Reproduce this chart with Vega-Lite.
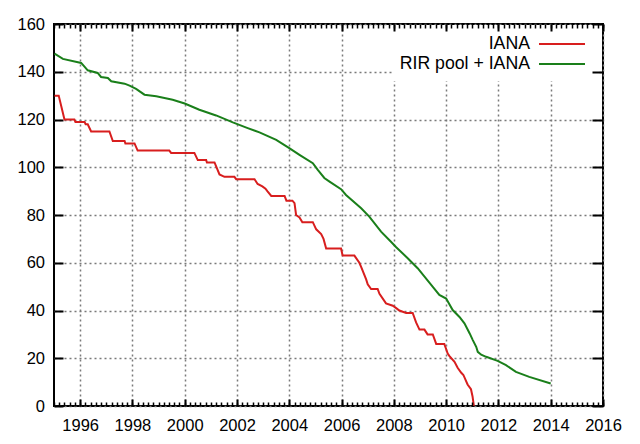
{
  "$schema": "https://vega.github.io/schema/vega-lite/v6.json",
  "width": 549,
  "height": 382,
  "autosize": {"type": "none"},
  "padding": {"left": 54, "top": 24, "right": 37, "bottom": 38},
  "background": "white",
  "config": {
    "font": "Liberation Sans",
    "view": {"stroke": "black", "strokeWidth": 2},
    "axis": {
      "domain": false,
      "title": null,
      "tickColor": "black",
      "labelColor": "black",
      "labelFont": "Liberation Sans",
      "labelFontSize": 16.5,
      "gridColor": "#7a7a7a",
      "gridDash": [2, 3],
      "gridWidth": 1.5
    }
  },
  "data": {
    "values": [
      {"series": "IANA", "year": 1995.02, "value": 130},
      {"series": "IANA", "year": 1995.18, "value": 130},
      {"series": "IANA", "year": 1995.29, "value": 125},
      {"series": "IANA", "year": 1995.40, "value": 120},
      {"series": "IANA", "year": 1995.78, "value": 120},
      {"series": "IANA", "year": 1995.82, "value": 119},
      {"series": "IANA", "year": 1996.17, "value": 119},
      {"series": "IANA", "year": 1996.21, "value": 118},
      {"series": "IANA", "year": 1996.29, "value": 118},
      {"series": "IANA", "year": 1996.42, "value": 115},
      {"series": "IANA", "year": 1997.12, "value": 115},
      {"series": "IANA", "year": 1997.25, "value": 111},
      {"series": "IANA", "year": 1997.70, "value": 111},
      {"series": "IANA", "year": 1997.73, "value": 110},
      {"series": "IANA", "year": 1998.08, "value": 110},
      {"series": "IANA", "year": 1998.20, "value": 107},
      {"series": "IANA", "year": 1999.41, "value": 107},
      {"series": "IANA", "year": 1999.48, "value": 106},
      {"series": "IANA", "year": 2000.37, "value": 106},
      {"series": "IANA", "year": 2000.50, "value": 103},
      {"series": "IANA", "year": 2000.82, "value": 103},
      {"series": "IANA", "year": 2000.85, "value": 102},
      {"series": "IANA", "year": 2001.14, "value": 102},
      {"series": "IANA", "year": 2001.33, "value": 97},
      {"series": "IANA", "year": 2001.52, "value": 96},
      {"series": "IANA", "year": 2001.90, "value": 96},
      {"series": "IANA", "year": 2001.97, "value": 95},
      {"series": "IANA", "year": 2002.67, "value": 95},
      {"series": "IANA", "year": 2002.79, "value": 93},
      {"series": "IANA", "year": 2002.97, "value": 92},
      {"series": "IANA", "year": 2003.09, "value": 91},
      {"series": "IANA", "year": 2003.16, "value": 90},
      {"series": "IANA", "year": 2003.31, "value": 88},
      {"series": "IANA", "year": 2003.82, "value": 88},
      {"series": "IANA", "year": 2003.89, "value": 86},
      {"series": "IANA", "year": 2004.12, "value": 86},
      {"series": "IANA", "year": 2004.20, "value": 85},
      {"series": "IANA", "year": 2004.26, "value": 80},
      {"series": "IANA", "year": 2004.39, "value": 79},
      {"series": "IANA", "year": 2004.50, "value": 77},
      {"series": "IANA", "year": 2004.90, "value": 77},
      {"series": "IANA", "year": 2005.03, "value": 74},
      {"series": "IANA", "year": 2005.22, "value": 72},
      {"series": "IANA", "year": 2005.31, "value": 70},
      {"series": "IANA", "year": 2005.41, "value": 66},
      {"series": "IANA", "year": 2005.98, "value": 66},
      {"series": "IANA", "year": 2006.04, "value": 63},
      {"series": "IANA", "year": 2006.49, "value": 63},
      {"series": "IANA", "year": 2006.68, "value": 60},
      {"series": "IANA", "year": 2006.76, "value": 58},
      {"series": "IANA", "year": 2006.94, "value": 53},
      {"series": "IANA", "year": 2007.00, "value": 51},
      {"series": "IANA", "year": 2007.13, "value": 49},
      {"series": "IANA", "year": 2007.38, "value": 49},
      {"series": "IANA", "year": 2007.45, "value": 47},
      {"series": "IANA", "year": 2007.70, "value": 43},
      {"series": "IANA", "year": 2007.96, "value": 42},
      {"series": "IANA", "year": 2008.09, "value": 41},
      {"series": "IANA", "year": 2008.21, "value": 40},
      {"series": "IANA", "year": 2008.47, "value": 39},
      {"series": "IANA", "year": 2008.72, "value": 39},
      {"series": "IANA", "year": 2008.85, "value": 35},
      {"series": "IANA", "year": 2008.98, "value": 32},
      {"series": "IANA", "year": 2009.17, "value": 32},
      {"series": "IANA", "year": 2009.29, "value": 30},
      {"series": "IANA", "year": 2009.49, "value": 30},
      {"series": "IANA", "year": 2009.62, "value": 26},
      {"series": "IANA", "year": 2009.93, "value": 26},
      {"series": "IANA", "year": 2010.06, "value": 22},
      {"series": "IANA", "year": 2010.12, "value": 21},
      {"series": "IANA", "year": 2010.32, "value": 18.5},
      {"series": "IANA", "year": 2010.44, "value": 16},
      {"series": "IANA", "year": 2010.57, "value": 14},
      {"series": "IANA", "year": 2010.66, "value": 13},
      {"series": "IANA", "year": 2010.82, "value": 9},
      {"series": "IANA", "year": 2010.95, "value": 7},
      {"series": "IANA", "year": 2011.01, "value": 4},
      {"series": "IANA", "year": 2011.06, "value": 0},
      {"series": "RIR pool + IANA", "year": 1995.02, "value": 147.6},
      {"series": "RIR pool + IANA", "year": 1995.34, "value": 145.4},
      {"series": "RIR pool + IANA", "year": 1996.04, "value": 143.7},
      {"series": "RIR pool + IANA", "year": 1996.29, "value": 140.6},
      {"series": "RIR pool + IANA", "year": 1996.67, "value": 139.5},
      {"series": "RIR pool + IANA", "year": 1996.80, "value": 137.8},
      {"series": "RIR pool + IANA", "year": 1997.06, "value": 137.4},
      {"series": "RIR pool + IANA", "year": 1997.19, "value": 136},
      {"series": "RIR pool + IANA", "year": 1997.70, "value": 135},
      {"series": "RIR pool + IANA", "year": 1997.89, "value": 134.2},
      {"series": "RIR pool + IANA", "year": 1998.14, "value": 132.8},
      {"series": "RIR pool + IANA", "year": 1998.46, "value": 130.4},
      {"series": "RIR pool + IANA", "year": 1998.91, "value": 129.7},
      {"series": "RIR pool + IANA", "year": 1999.54, "value": 128.3},
      {"series": "RIR pool + IANA", "year": 2000.00, "value": 126.7},
      {"series": "RIR pool + IANA", "year": 2000.56, "value": 124.1},
      {"series": "RIR pool + IANA", "year": 2001.20, "value": 121.7},
      {"series": "RIR pool + IANA", "year": 2001.84, "value": 118.8},
      {"series": "RIR pool + IANA", "year": 2002.41, "value": 116.4},
      {"series": "RIR pool + IANA", "year": 2002.86, "value": 114.6},
      {"series": "RIR pool + IANA", "year": 2003.50, "value": 111.5},
      {"series": "RIR pool + IANA", "year": 2004.00, "value": 108},
      {"series": "RIR pool + IANA", "year": 2004.39, "value": 105.2},
      {"series": "RIR pool + IANA", "year": 2004.90, "value": 101.7},
      {"series": "RIR pool + IANA", "year": 2005.09, "value": 98.9},
      {"series": "RIR pool + IANA", "year": 2005.34, "value": 95.5},
      {"series": "RIR pool + IANA", "year": 2005.54, "value": 94},
      {"series": "RIR pool + IANA", "year": 2005.98, "value": 90.8},
      {"series": "RIR pool + IANA", "year": 2006.17, "value": 88.4},
      {"series": "RIR pool + IANA", "year": 2006.75, "value": 82.8},
      {"series": "RIR pool + IANA", "year": 2007.06, "value": 79.3},
      {"series": "RIR pool + IANA", "year": 2007.51, "value": 73},
      {"series": "RIR pool + IANA", "year": 2007.89, "value": 68.8},
      {"series": "RIR pool + IANA", "year": 2008.09, "value": 66.5},
      {"series": "RIR pool + IANA", "year": 2008.53, "value": 61.9},
      {"series": "RIR pool + IANA", "year": 2008.91, "value": 57.7},
      {"series": "RIR pool + IANA", "year": 2009.49, "value": 49.9},
      {"series": "RIR pool + IANA", "year": 2009.74, "value": 46.5},
      {"series": "RIR pool + IANA", "year": 2010.00, "value": 45},
      {"series": "RIR pool + IANA", "year": 2010.25, "value": 40.2},
      {"series": "RIR pool + IANA", "year": 2010.51, "value": 37.3},
      {"series": "RIR pool + IANA", "year": 2010.70, "value": 34.6},
      {"series": "RIR pool + IANA", "year": 2010.90, "value": 30.4},
      {"series": "RIR pool + IANA", "year": 2011.02, "value": 27.6},
      {"series": "RIR pool + IANA", "year": 2011.15, "value": 24.8},
      {"series": "RIR pool + IANA", "year": 2011.21, "value": 22.7},
      {"series": "RIR pool + IANA", "year": 2011.34, "value": 21.5},
      {"series": "RIR pool + IANA", "year": 2011.53, "value": 20.6},
      {"series": "RIR pool + IANA", "year": 2011.97, "value": 18.9},
      {"series": "RIR pool + IANA", "year": 2012.29, "value": 17.1},
      {"series": "RIR pool + IANA", "year": 2012.67, "value": 14.3},
      {"series": "RIR pool + IANA", "year": 2013.18, "value": 12.2},
      {"series": "RIR pool + IANA", "year": 2014.00, "value": 9.4}
    ]
  },
  "layer": [
    {
      "mark": {"type": "line", "strokeWidth": 2, "clip": true},
      "encoding": {
        "x": {"field": "year", "type": "quantitative",
          "scale": {"domain": [1995, 2016], "nice": false, "zero": false},
          "axis": {"orient": "bottom", "tickCount": 10, "format": "d", "tickSize": -7, "tickWidth": 2, "labelPadding": 18.7, "grid": true, "labelFlush": false}},
        "y": {"field": "value", "type": "quantitative",
          "scale": {"domain": [0, 160], "nice": false, "zero": true},
          "axis": {"orient": "left", "tickCount": 8, "tickSize": -9, "tickWidth": 2, "labelPadding": 18.5, "grid": true, "labelFlush": false}},
        "color": {"field": "series", "type": "nominal",
          "scale": {"domain": ["IANA", "RIR pool + IANA"], "range": ["#d81e1e", "#1a7f1a"]},
          "legend": {"orient": "none", "legendX": 338, "legendY": 1, "title": null,
            "symbolType": "M-2.3,0H2.3", "symbolSize": 400, "symbolStrokeWidth": 2,
            "symbolOffset": 151,
            "labelAlign": "right", "labelOffset": -43, "labelFontSize": 17.7, "labelFont": "Liberation Sans", "labelColor": "black",
            "fillColor": "white", "padding": 8, "rowPadding": 0}}
      }
    },
    {
      "mark": {"type": "point", "opacity": 0},
      "encoding": {
        "x": {"field": "year", "type": "quantitative",
          "axis": {"orient": "bottom", "tickCount": 105, "tickSize": -4, "tickWidth": 1.5, "labels": false, "grid": false, "zindex": 1}},
        "y": {"field": "value", "type": "quantitative",
          "axis": {"orient": "right", "tickCount": 8, "tickSize": -11, "tickWidth": 2, "labels": false, "grid": false, "zindex": 1}}
      }
    },
    {
      "mark": {"type": "point", "opacity": 0},
      "encoding": {
        "x": {"field": "year", "type": "quantitative",
          "axis": {"orient": "top", "tickCount": 10, "tickSize": -7, "tickWidth": 2, "labels": false, "grid": false, "zindex": 1}},
        "y": {"field": "value", "type": "quantitative", "axis": null}
      }
    },
    {
      "mark": {"type": "point", "opacity": 0},
      "encoding": {
        "x": {"field": "year", "type": "quantitative",
          "axis": {"orient": "top", "tickCount": 105, "tickSize": -4, "tickWidth": 1.5, "labels": false, "grid": false, "zindex": 1}},
        "y": {"field": "value", "type": "quantitative", "axis": null}
      }
    }
  ],
  "resolve": {"axis": {"x": "independent", "y": "independent"}}
}
